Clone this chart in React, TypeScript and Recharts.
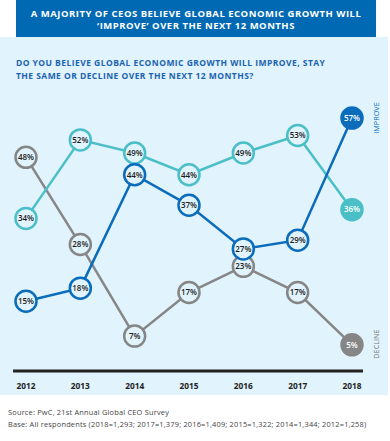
import React from "react";
import { LineChart, Line, XAxis, YAxis } from "recharts";

const years = ["2012", "2013", "2014", "2015", "2016", "2017", "2018"];
const improve = [15, 18, 44, 37, 27, 29, 57];
const stayTheSame = [34, 52, 49, 44, 49, 53, 36];
const decline = [48, 28, 7, 17, 23, 17, 5];

const data = years.map((year, i) => ({
  year,
  improve: improve[i],
  same: stayTheSame[i],
  decline: decline[i],
}));

const BG = "#e1f3fc";
const BLUE = "#0a6cba";
const TEAL = "#4bbfc7";
const GREY = "#868686";
const FONT = "'Open Sans', sans-serif";

const makeDot = (color: string) => (props: any) => {
  const { cx, cy, value, index } = props;
  const last = index === years.length - 1;
  return (
    <g key={`dot-${color}-${index}`}>
      <circle cx={cx} cy={cy} r={10.5} fill={last ? color : BG} stroke={color} strokeWidth={2.5} />
      <text
        x={cx}
        y={cy}
        dy="0.35em"
        textAnchor="middle"
        fontSize={8}
        fontWeight={600}
        fontFamily={FONT}
        fill={last ? "#ffffff" : "#1e1e1e"}
      >
        {value}%
      </text>
    </g>
  );
};

const YearTick = (props: any) => {
  const { x, y, payload } = props;
  return (
    <text x={x} y={y} dy="0.71em" textAnchor="middle" fontSize={8.3} fontWeight={700} fontFamily={FONT} fill="#222">
      {payload.value}
    </text>
  );
};

const App: React.FC = () => {
  return (
    <div style={{ position: "absolute", left: 0, top: 0, width: 390, height: 441, background: "#fff", fontFamily: FONT }}>
      <div style={{ position: "absolute", left: 0, top: 37, width: 388, height: 358, background: BG }} />
      <div
        style={{
          position: "absolute",
          left: 16,
          top: 0,
          width: 360,
          height: 37,
          background: "#0069b4",
          color: "#fff",
          fontWeight: 700,
          fontSize: 9.5,
          letterSpacing: 0.5,
          lineHeight: "11.5px",
          textAlign: "center",
          paddingTop: 8,
          boxSizing: "border-box",
          whiteSpace: "nowrap",
        }}
      >
        A MAJORITY OF CEOS BELIEVE GLOBAL ECONOMIC GROWTH WILL
        <br />
        ‘IMPROVE’ OVER THE NEXT 12 MONTHS
      </div>
      <div
        style={{
          position: "absolute",
          left: 16,
          top: 56,
          color: "#1a63b0",
          fontWeight: 700,
          fontSize: 8.5,
          lineHeight: "13px",
          letterSpacing: 0.45,
          whiteSpace: "nowrap",
        }}
      >
        DO YOU BELIEVE GLOBAL ECONOMIC GROWTH WILL IMPROVE, STAY
        <br />
        THE SAME OR DECLINE OVER THE NEXT 12 MONTHS?
      </div>
      <div style={{ position: "absolute", left: 0, top: 0 }}>
        <LineChart width={390} height={441} data={data} margin={{ top: 105, right: 27, bottom: 40, left: 13 }}>
          <XAxis
            dataKey="year"
            height={30}
            padding={{ left: 13, right: 11 }}
            axisLine={{ stroke: "#222", strokeWidth: 3 }}
            tickLine={false}
            tickMargin={6}
            tick={<YearTick />}
          />
          <YAxis hide domain={[-1, 60]} />
          <Line dataKey="decline" stroke={GREY} strokeWidth={2.5} dot={makeDot(GREY)} isAnimationActive={false} />
          <Line dataKey="same" stroke={TEAL} strokeWidth={2.5} dot={makeDot(TEAL)} isAnimationActive={false} />
          <Line dataKey="improve" stroke={BLUE} strokeWidth={2.5} dot={makeDot(BLUE)} isAnimationActive={false} />
          <text x={376} y={118} transform="rotate(-90 376 118)" textAnchor="middle" dy="0.35em" fontSize={7.3} fontFamily={FONT} fill={BLUE}>
            IMPROVE
          </text>
          <text x={376} y={344} transform="rotate(-90 376 344)" textAnchor="middle" dy="0.35em" fontSize={7.3} fontFamily={FONT} fill="#777">
            DECLINE
          </text>
        </LineChart>
      </div>
      <div
        style={{
          position: "absolute",
          left: 8,
          top: 406,
          color: "#444",
          fontSize: 7.4,
          letterSpacing: 0.2,
          lineHeight: "12px",
          whiteSpace: "nowrap",
        }}
      >
        Source: PwC, 21st Annual Global CEO Survey
        <br />
        Base: All respondents (2018=1,293; 2017=1,379; 2016=1,409; 2015=1,322; 2014=1,344; 2012=1,258)
      </div>
    </div>
  );
};

export default App;
